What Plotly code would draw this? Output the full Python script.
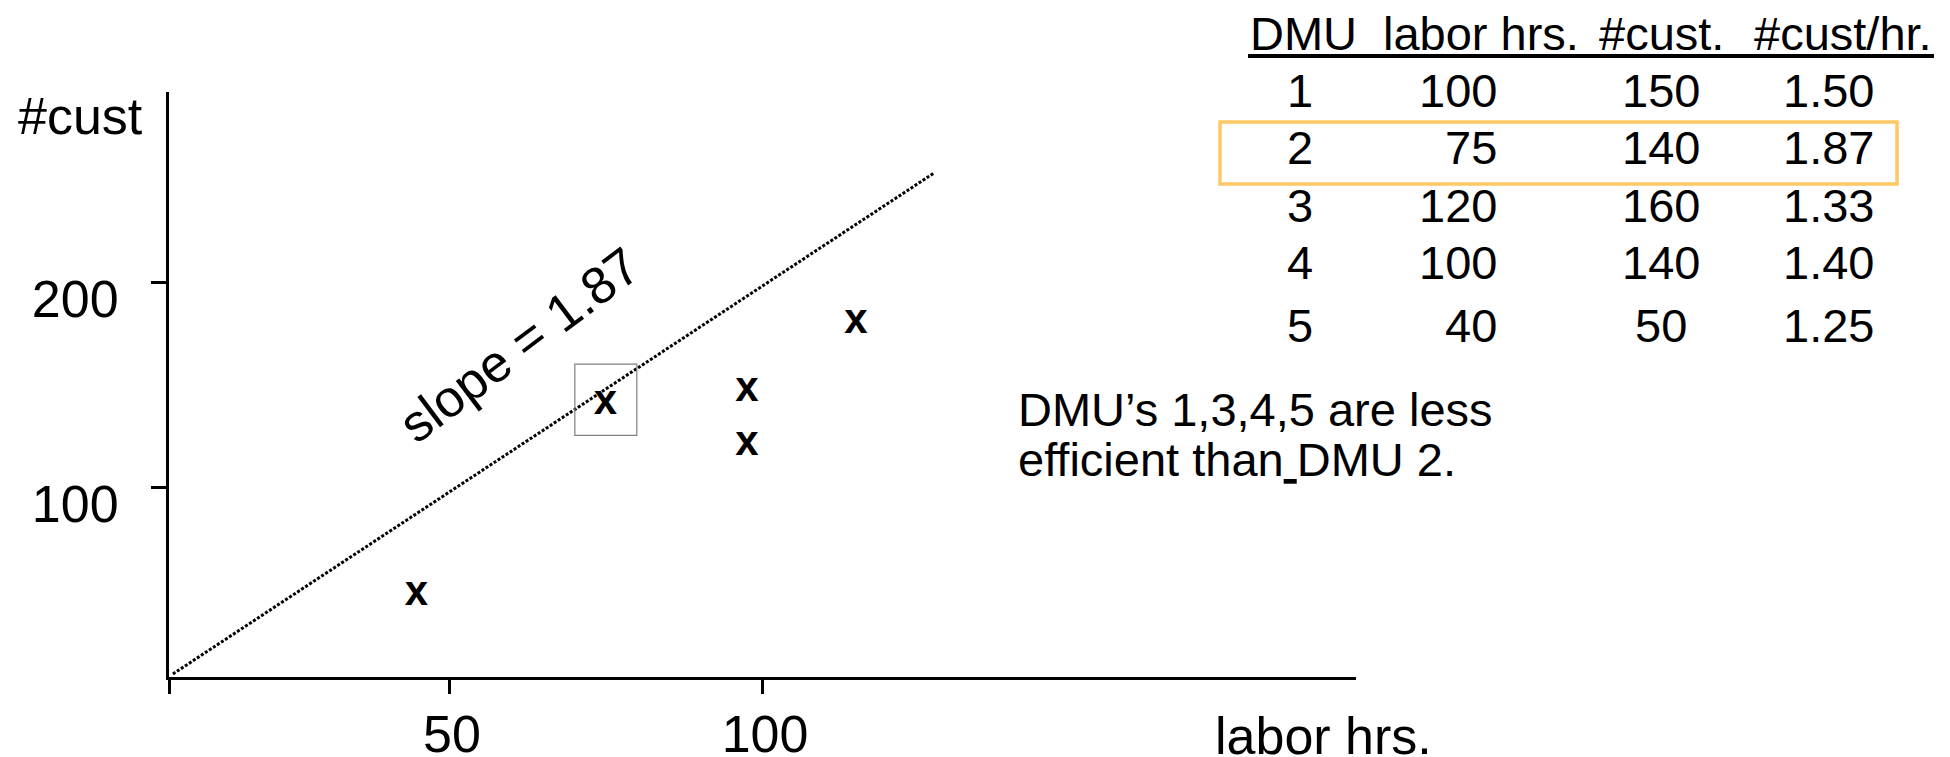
import plotly.graph_objects as go

# ---------------- data ----------------
dmu = ["1", "2", "3", "4", "5"]
labor_hrs = [100, 75, 120, 100, 40]
customers = [150, 140, 160, 140, 50]
cust_per_hr = ["1.50", "1.87", "1.33", "1.40", "1.25"]
header = ["DMU", "labor hrs.", "#cust.", "#cust/hr."]

# points as they are drawn in the sketch, DMU 1..5
plot_x = [97.6, 75.0, 115.0, 97.6, 44.8]
plot_y = [147.0, 140.8, 180.1, 120.5, 47.8]

# dotted line (slope label 1.87) end points as drawn
line_x = [5.9, 127.5]
line_y = [8.8, 253.2]

# box around DMU 2
box_x = [70.1, 80.0]
box_y = [125.2, 159.9]

x_ticks = [50, 100]
y_ticks = [100, 200]
slope_label = "slope = 1.87"
note_lines = ["DMU\u2019s 1,3,4,5 are less", "efficient than<u>\u00a0</u>DMU 2."]

# ---------------- layout geometry ----------------
W, H = 1950, 757
OFF = 8  # page body margin of the html page
L, R, T, B = 169 - OFF, 1356 - OFF, 92 - OFF, 677 - OFF
FONT = "Liberation Sans, Arial, Helvetica, sans-serif"


def xdata(px):
    return 50 + (px - (449 - OFF)) * 50 / (762 - 449)


def ydata(py):
    return 100 + ((487 - OFF) - py) * 100 / (487 - 282)


x_range = [xdata(L), xdata(R)]
y_range = [ydata(B), ydata(T)]


def pxp(px):
    return (px - OFF - L) / (R - L)


def pyp(py):
    return (B - (py - OFF)) / (B - T)


fig = go.Figure()
fig.add_trace(go.Scatter(
    x=line_x, y=line_y, mode="lines",
    line=dict(color="black", width=3, dash="3px,1.8px"),
    hoverinfo="skip", showlegend=False))
fig.add_trace(go.Scatter(
    x=plot_x, y=plot_y, mode="text",
    text=["<b>x</b>"] * len(plot_x), textposition="middle center",
    textfont=dict(family=FONT, size=42, color="black"),
    showlegend=False))

shapes = [
    dict(type="rect", xref="x", yref="y", x0=box_x[0], x1=box_x[1],
         y0=box_y[0], y1=box_y[1], line=dict(color="#808080", width=1.2)),
    # table header underline
    dict(type="line", xref="paper", yref="paper", x0=pxp(1248), x1=pxp(1934),
         y0=pyp(56), y1=pyp(56), line=dict(color="black", width=4)),
    # highlight box around row 2
    dict(type="rect", xref="paper", yref="paper", x0=pxp(1220), x1=pxp(1897),
         y0=pyp(184), y1=pyp(122), line=dict(color="#FEC865", width=3.5)),
]

ann = []
TF = 47
# header
for txt, xl in zip(header, [1248, 1381, 1597, 1752]):
    ann.append(dict(text=txt, xref="paper", yref="paper", x=pxp(xl), y=pyp(33.5),
                    xanchor="left", yanchor="middle", showarrow=False,
                    font=dict(family=FONT, size=TF, color="black")))
row_y = [90, 147, 205, 263, 325]
for i in range(len(dmu)):
    yy = pyp(row_y[i])
    cells = [(dmu[i], 1300, "center"), (str(labor_hrs[i]), 1499, "right"),
             (str(customers[i]), 1661, "center"), (cust_per_hr[i], 1828, "center")]
    for txt, xp, anc in cells:
        ann.append(dict(text=txt, xref="paper", yref="paper", x=pxp(xp), y=yy,
                        xanchor=anc, yanchor="middle", showarrow=False,
                        font=dict(family=FONT, size=TF, color="black")))
# note
for txt, yp in zip(note_lines, [409, 459]):
    ann.append(dict(text=txt, xref="paper", yref="paper", x=pxp(1016), y=pyp(yp),
                    xanchor="left", yanchor="middle", showarrow=False,
                    font=dict(family=FONT, size=TF, color="black")))
# axis titles
ann.append(dict(text="#cust", xref="paper", yref="paper", x=pxp(16), y=pyp(116),
                xanchor="left", yanchor="middle", showarrow=False,
                font=dict(family=FONT, size=52, color="black")))
ann.append(dict(text="labor hrs.", xref="paper", yref="paper", x=pxp(1213), y=pyp(736),
                xanchor="left", yanchor="middle", showarrow=False,
                font=dict(family=FONT, size=52, color="black")))
# slope label
ann.append(dict(text=slope_label, xref="x", yref="y", x=61.2, y=169.3,
                xanchor="center", yanchor="middle", textangle=-37, showarrow=False,
                font=dict(family=FONT, size=52, color="black")))

fig.update_layout(
    width=W, height=H,
    margin=dict(l=L, r=W - R, t=T, b=H - B, pad=0, autoexpand=False),
    paper_bgcolor="white", plot_bgcolor="white",
    showlegend=False,
    shapes=shapes, annotations=ann,
    xaxis=dict(range=x_range, showgrid=False, zeroline=False, automargin=False,
               showline=True, linecolor="black", linewidth=3,
               ticks="outside", ticklen=14, tickwidth=3, tickcolor="black",
               tickvals=[x_range[0]] + x_ticks, ticktext=[""] + [str(v) for v in x_ticks],
               tickfont=dict(family=FONT, size=52, color="black"),
               ticklabelstandoff=-4, ticklabelshift=3, fixedrange=True),
    yaxis=dict(range=y_range, showgrid=False, zeroline=False, automargin=False,
               showline=True, linecolor="black", linewidth=3,
               ticks="outside", ticklen=15, tickwidth=3, tickcolor="black",
               tickvals=y_ticks, ticktext=[str(v) for v in y_ticks],
               tickfont=dict(family=FONT, size=52, color="black"),
               ticklabelstandoff=22, ticklabelshift=17, fixedrange=True),
)

fig.write_html("out.html")
